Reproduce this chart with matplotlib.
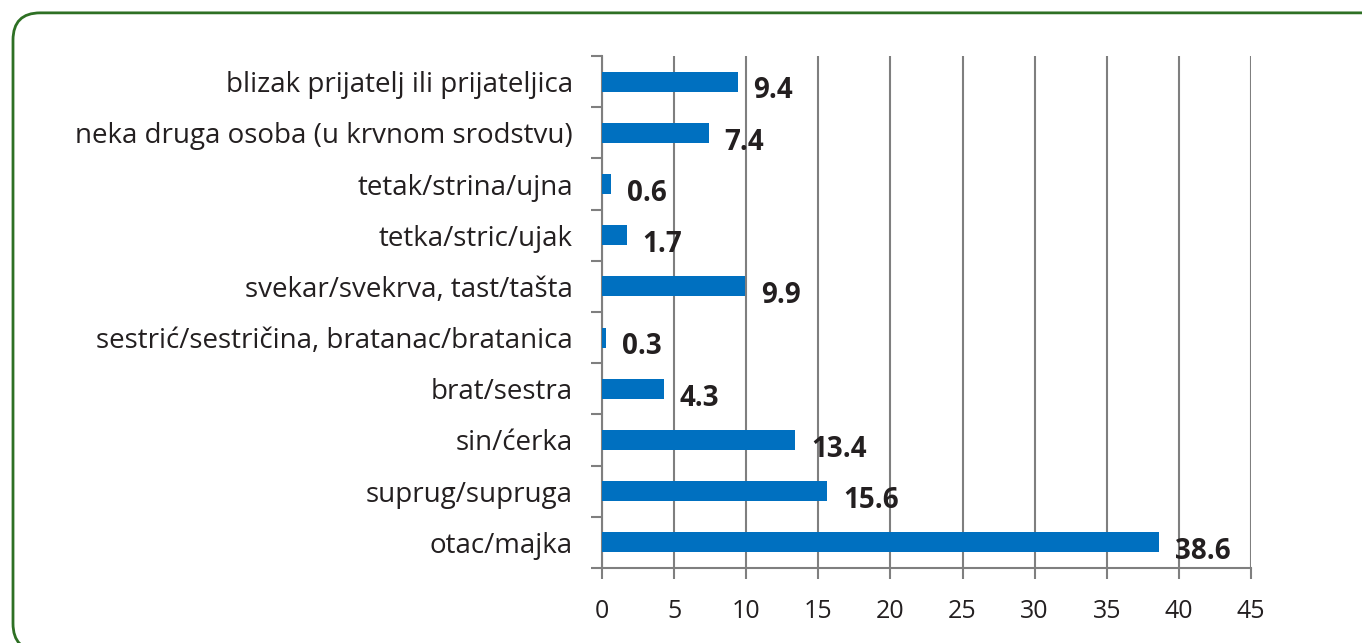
import matplotlib.pyplot as plt
from matplotlib.patches import FancyBboxPatch

categories = ["otac/majka", "suprug/supruga", "sin/ćerka", "brat/sestra",
              "sestrić/sestričina, bratanac/bratanica", "svekar/svekrva, tast/tašta",
              "tetka/stric/ujak", "tetak/strina/ujna",
              "neka druga osoba (u krvnom srodstvu)", "blizak prijatelj ili prijateljica"]
values = [38.6, 15.6, 13.4, 4.3, 0.3, 9.9, 1.7, 0.6, 7.4, 9.4]
xticks = [0, 5, 10, 15, 20, 25, 30, 35, 40, 45]

plt.rcParams['font.family'] = ['Open Sans', 'DejaVu Sans']
txt = '#231f20'
grid = '#7f7f7f'

fig = plt.figure(figsize=(13.62, 6.43), dpi=100)
ax = fig.add_axes([602/1362, 1-568/643, 649/1362, 512/643])

# green rounded frame
frame = FancyBboxPatch((13/1362, -0.012), 1.012, 0.992, transform=fig.transFigure,
                       boxstyle="round,pad=0,rounding_size=0.02", fill=False,
                       edgecolor='#2e7024', linewidth=2, mutation_aspect=1362/643)
fig.patches.append(frame)

y = list(range(len(categories)))
ax.barh(y, values, height=0.39, color='#0070c0', zorder=3)
for yi, v in zip(y, values):
    ax.text(v + 1.1, yi - 0.18, f"{v:.1f}", va='center', ha='left',
            fontsize=20, fontweight='bold', color=txt, zorder=4)

ax.set_xlim(0, 45)
ax.set_ylim(-0.5, len(categories) - 0.5)
ax.set_xticks(xticks)
ax.set_xticklabels([str(t) for t in xticks], fontsize=18, color=txt)
ax.set_yticks(y)
ax.set_yticklabels(categories, fontsize=20, color=txt)
ax.tick_params(axis='y', length=0, pad=21)
ax.tick_params(axis='x', length=8, width=1.5, color=grid, pad=14)
ax.set_yticks([i - 0.5 for i in range(len(categories) + 1)], minor=True)
ax.tick_params(axis='y', which='minor', length=8, width=1.5, color=grid)
ax.grid(axis='x', color=grid, linewidth=1.5, zorder=1)
for s in ['top', 'right']:
    ax.spines[s].set_visible(False)
for s in ['left', 'bottom']:
    ax.spines[s].set_color(grid)
    ax.spines[s].set_linewidth(1.5)

fig.savefig('out.png', dpi=100)
